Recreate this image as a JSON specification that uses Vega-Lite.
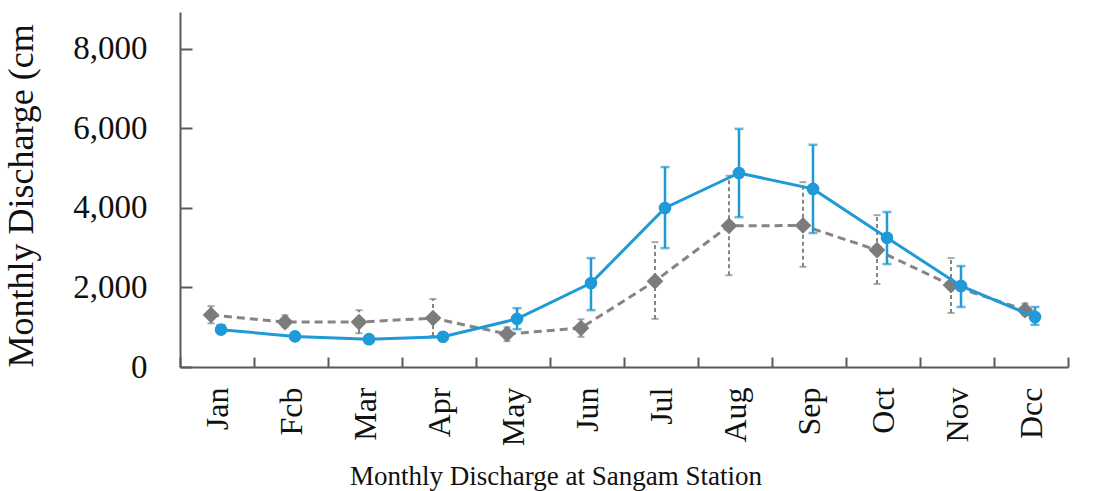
{
  "$schema": "https://vega.github.io/schema/vega-lite/v6.json",
  "width": 888,
  "height": 355,
  "autosize": {"type": "none"},
  "padding": {"left": 180, "top": 12, "right": 35, "bottom": 124},
  "config": {
    "view": {"stroke": null},
    "font": "Liberation Serif",
    "axis": {
      "domainColor": "#5a5a5a",
      "domainWidth": 2,
      "tickColor": "#5a5a5a",
      "tickWidth": 2,
      "labelColor": "#111111",
      "titleColor": "#111111",
      "labelFont": "Liberation Serif",
      "titleFont": "Liberation Serif",
      "titleFontWeight": "normal",
      "grid": false
    }
  },
  "title": {
    "text": "Monthly Discharge at Sangam Station",
    "orient": "bottom",
    "font": "Liberation Serif",
    "fontSize": 27,
    "fontWeight": "normal",
    "color": "#111111",
    "anchor": "middle",
    "dx": -68,
    "offset": 18
  },
  "data": {
    "values": [
      {"month": "Jan", "series": "Series A", "value": 1310, "lo": 1100, "hi": 1530},
      {"month": "Fcb", "series": "Series A", "value": 1130, "lo": 1000, "hi": 1300},
      {"month": "Mar", "series": "Series A", "value": 1130, "lo": 850, "hi": 1430},
      {"month": "Apr", "series": "Series A", "value": 1230, "lo": 780, "hi": 1710},
      {"month": "May", "series": "Series A", "value": 830, "lo": 650, "hi": 1000},
      {"month": "Jun", "series": "Series A", "value": 980, "lo": 760, "hi": 1200},
      {"month": "Jul", "series": "Series A", "value": 2160, "lo": 1210, "hi": 3140},
      {"month": "Aug", "series": "Series A", "value": 3550, "lo": 2310, "hi": 4810},
      {"month": "Sep", "series": "Series A", "value": 3560, "lo": 2520, "hi": 4650},
      {"month": "Oct", "series": "Series A", "value": 2940, "lo": 2090, "hi": 3820},
      {"month": "Nov", "series": "Series A", "value": 2060, "lo": 1360, "hi": 2740},
      {"month": "Dcc", "series": "Series A", "value": 1430, "lo": 1300, "hi": 1600},
      {"month": "Jan", "series": "Series B", "value": 940, "lo": 860, "hi": 1050},
      {"month": "Fcb", "series": "Series B", "value": 770, "lo": 720, "hi": 830},
      {"month": "Mar", "series": "Series B", "value": 700, "lo": 650, "hi": 760},
      {"month": "Apr", "series": "Series B", "value": 760, "lo": 700, "hi": 830},
      {"month": "May", "series": "Series B", "value": 1210, "lo": 950, "hi": 1480},
      {"month": "Jun", "series": "Series B", "value": 2110, "lo": 1430, "hi": 2740},
      {"month": "Jul", "series": "Series B", "value": 4000, "lo": 2990, "hi": 5030},
      {"month": "Aug", "series": "Series B", "value": 4880, "lo": 3770, "hi": 5990},
      {"month": "Sep", "series": "Series B", "value": 4480, "lo": 3370, "hi": 5590},
      {"month": "Oct", "series": "Series B", "value": 3250, "lo": 2590, "hi": 3900},
      {"month": "Nov", "series": "Series B", "value": 2040, "lo": 1510, "hi": 2540},
      {"month": "Dcc", "series": "Series B", "value": 1260, "lo": 1060, "hi": 1510}
    ]
  },
  "encoding": {
    "x": {
      "field": "month",
      "type": "nominal",
      "sort": null,
      "scale": {"type": "band", "paddingInner": 0, "paddingOuter": 0},
      "axis": {
        "title": null,
        "labelAngle": -90,
        "labelFontSize": 32,
        "labelPadding": 30,
        "tickSize": -10,
        "tickBand": "extent",
        "labelAlign": "right",
        "labelBaseline": "middle"
      }
    },
    "xOffset": {
      "field": "series",
      "type": "nominal",
      "scale": {"domain": ["Series A", "Series B"], "range": [26, 46], "paddingInner": 0, "paddingOuter": 0}
    },
    "y": {
      "field": "value",
      "type": "quantitative",
      "scale": {"domain": [0, 8930], "nice": false, "zero": true},
      "axis": {
        "title": "Monthly Discharge (cm",
        "titleFontSize": 36,
        "titleAnchor": "start",
        "titlePadding": 32,
        "values": [0, 2000, 4000, 6000, 8000],
        "format": ",d",
        "labelFontSize": 33,
        "labelPadding": 45,
        "tickSize": -12
      }
    }
  },
  "layer": [
    {
      "transform": [{"filter": "datum.series === 'Series A'"}],
      "mark": {"type": "rule", "color": "#858585", "strokeWidth": 2, "strokeDash": [4, 3]},
      "encoding": {"y": {"field": "lo", "type": "quantitative"}, "y2": {"field": "hi"}}
    },
    {
      "transform": [{"filter": "datum.series === 'Series A'"}],
      "mark": {"type": "tick", "color": "#858585", "size": 7, "thickness": 2, "orient": "horizontal"},
      "encoding": {"y": {"field": "lo", "type": "quantitative"}}
    },
    {
      "transform": [{"filter": "datum.series === 'Series A'"}],
      "mark": {"type": "tick", "color": "#858585", "size": 7, "thickness": 2, "orient": "horizontal"},
      "encoding": {"y": {"field": "hi", "type": "quantitative"}}
    },
    {
      "transform": [{"filter": "datum.series === 'Series A'"}],
      "mark": {"type": "line", "color": "#858585", "strokeWidth": 3, "strokeDash": [8, 5]},
      "encoding": {}
    },
    {
      "transform": [{"filter": "datum.series === 'Series A'"}],
      "mark": {"type": "point", "shape": "diamond", "filled": true, "opacity": 1, "color": "#7c7c7c", "size": 280},
      "encoding": {}
    },
    {
      "transform": [{"filter": "datum.series === 'Series B'"}],
      "mark": {"type": "rule", "color": "#1f9ad6", "strokeWidth": 2.5},
      "encoding": {"y": {"field": "lo", "type": "quantitative"}, "y2": {"field": "hi"}}
    },
    {
      "transform": [{"filter": "datum.series === 'Series B'"}],
      "mark": {"type": "tick", "color": "#1f9ad6", "size": 9, "thickness": 2.5, "orient": "horizontal"},
      "encoding": {"y": {"field": "lo", "type": "quantitative"}}
    },
    {
      "transform": [{"filter": "datum.series === 'Series B'"}],
      "mark": {"type": "tick", "color": "#1f9ad6", "size": 9, "thickness": 2.5, "orient": "horizontal"},
      "encoding": {"y": {"field": "hi", "type": "quantitative"}}
    },
    {
      "transform": [{"filter": "datum.series === 'Series B'"}],
      "mark": {"type": "line", "color": "#1f9ad6", "strokeWidth": 3},
      "encoding": {}
    },
    {
      "transform": [{"filter": "datum.series === 'Series B'"}],
      "mark": {"type": "point", "shape": "circle", "filled": true, "opacity": 1, "color": "#1f9ad6", "size": 160},
      "encoding": {}
    }
  ]
}
